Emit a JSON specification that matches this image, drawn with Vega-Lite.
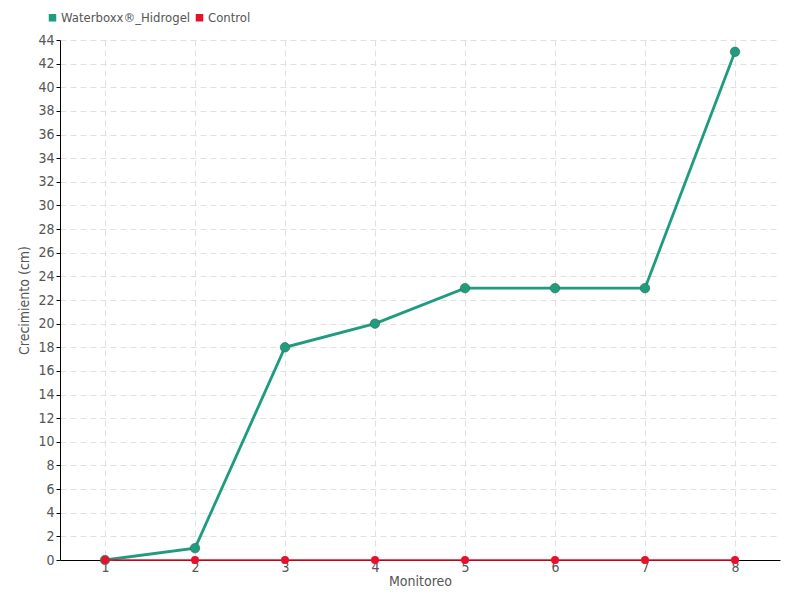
{
  "$schema": "https://vega.github.io/schema/vega-lite/v6.json",
  "width": 720,
  "height": 520,
  "autosize": {"type": "none"},
  "padding": {"left": 60, "top": 40, "right": 20, "bottom": 40},
  "background": "white",
  "config": {
    "view": {"stroke": null},
    "font": "DejaVu Sans Condensed",
    "axis": {"labelFont": "DejaVu Sans Condensed", "titleFont": "DejaVu Sans Condensed", "labelColor": "#555", "titleColor": "#555", "labelFontSize": 14, "titleFontSize": 14, "titleFontWeight": "normal", "gridColor": "#e0e0e0", "gridDash": [6, 4]},
    "legend": {"labelFont": "DejaVu Sans Condensed", "labelFontSize": 13, "labelColor": "#555"}
  },
  "data": {
    "values": [
      {"Monitoreo": "1", "serie": "Waterboxx®_Hidrogel", "valor": 0},
      {"Monitoreo": "2", "serie": "Waterboxx®_Hidrogel", "valor": 1},
      {"Monitoreo": "3", "serie": "Waterboxx®_Hidrogel", "valor": 18},
      {"Monitoreo": "4", "serie": "Waterboxx®_Hidrogel", "valor": 20},
      {"Monitoreo": "5", "serie": "Waterboxx®_Hidrogel", "valor": 23},
      {"Monitoreo": "6", "serie": "Waterboxx®_Hidrogel", "valor": 23},
      {"Monitoreo": "7", "serie": "Waterboxx®_Hidrogel", "valor": 23},
      {"Monitoreo": "8", "serie": "Waterboxx®_Hidrogel", "valor": 43},
      {"Monitoreo": "1", "serie": "Control", "valor": 0},
      {"Monitoreo": "2", "serie": "Control", "valor": 0},
      {"Monitoreo": "3", "serie": "Control", "valor": 0},
      {"Monitoreo": "4", "serie": "Control", "valor": 0},
      {"Monitoreo": "5", "serie": "Control", "valor": 0},
      {"Monitoreo": "6", "serie": "Control", "valor": 0},
      {"Monitoreo": "7", "serie": "Control", "valor": 0},
      {"Monitoreo": "8", "serie": "Control", "valor": 0}
    ]
  },
  "encoding": {
    "x": {
      "field": "Monitoreo", "type": "ordinal",
      "scale": {"type": "point", "padding": 0.5},
      "axis": {"labelAngle": 0, "grid": true, "ticks": false, "domainColor": "black", "labelPadding": 0, "title": "Monitoreo", "titlePadding": 0}
    },
    "y": {
      "field": "valor", "type": "quantitative",
      "scale": {"domain": [0, 44], "nice": false},
      "axis": {"values": [0,2,4,6,8,10,12,14,16,18,20,22,24,26,28,30,32,34,36,38,40,42,44], "domainColor": "black", "tickColor": "black", "tickSize": 4, "labelPadding": 2, "title": "Crecimiento (cm)", "titlePadding": 6}
    },
    "color": {
      "field": "serie", "type": "nominal",
      "sort": ["Waterboxx®_Hidrogel", "Control"],
      "scale": {"domain": ["Waterboxx®_Hidrogel", "Control"], "range": ["#1f9c7f", "#e8112d"]},
      "legend": {"title": null, "orient": "none", "legendX": -14, "legendY": -29, "direction": "horizontal", "symbolType": "square", "symbolSize": 36, "columnPadding": 2, "labelOffset": 2}
    }
  },
  "layer": [
    {"transform": [{"filter": "datum.serie === 'Waterboxx®_Hidrogel'"}], "mark": {"type": "line", "strokeWidth": 2.8}},
    {"transform": [{"filter": "datum.serie === 'Waterboxx®_Hidrogel'"}], "mark": {"type": "point", "filled": true, "opacity": 1, "size": 90, "strokeWidth": 1, "stroke": "#2a6a50", "strokeOpacity": 0.6}},
    {"transform": [{"filter": "datum.serie === 'Control'"}], "mark": {"type": "line", "strokeWidth": 1.5}},
    {"transform": [{"filter": "datum.serie === 'Control'"}], "mark": {"type": "point", "filled": true, "opacity": 1, "size": 64, "strokeWidth": 0}}
  ]
}
